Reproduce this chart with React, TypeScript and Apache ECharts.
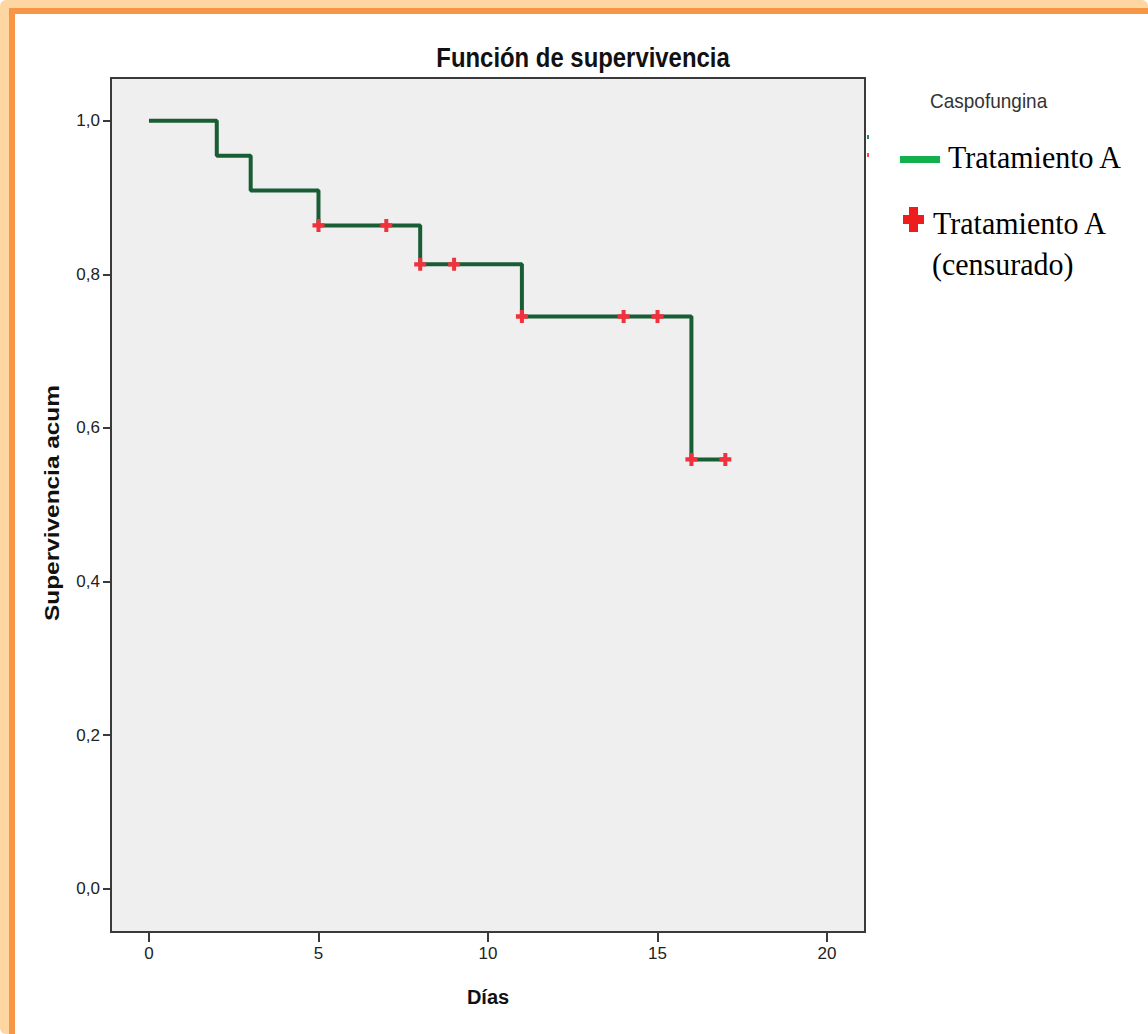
import React, { useEffect, useRef } from "react";
import * as echarts from "echarts";

// Kaplan-Meier step curve (days, cumulative survival)
const stepDays = [0, 2, 3, 5, 8, 11, 16, 17];
const stepSurvival = [1.0, 0.9545, 0.9091, 0.8636, 0.813, 0.745, 0.559, 0.559];

// Censored observations
const censoredDays = [5, 7, 8, 9, 11, 14, 15, 16, 17];
const censoredSurvival = [0.8636, 0.8636, 0.813, 0.813, 0.745, 0.745, 0.745, 0.559, 0.559];

const xTicks = [0, 5, 10, 15, 20];
const yTicks = [0, 0.2, 0.4, 0.6, 0.8, 1.0];

const titleText = "Función de supervivencia";
const xTitle = "Días";
const yTitle = "Supervivencia acum";
const legendTitle = "Caspofungina";
const legendLine = "Tratamiento A";
const legendCensor1 = "Tratamiento A";
const legendCensor2 = "(censurado)";

const PLUS = "path://M4,0 L8,0 L8,4 L12,4 L12,8 L8,8 L8,12 L4,12 L4,8 L0,8 L0,4 L4,4 Z";

export default function App() {
  const ref = useRef<HTMLDivElement>(null);
  useEffect(() => {
    if (!ref.current) return;
    const chart = echarts.init(ref.current, null, { renderer: "svg" });
    const lineData = stepDays.map((d, i) => [d, stepSurvival[i]]);
    const censData = censoredDays.map((d, i) => [d, censoredSurvival[i]]);
    const axisFont = { fontFamily: "Liberation Sans", fontSize: 17, color: "#222" };
    chart.setOption({
      animation: false,
      backgroundColor: "#ffffff",
      grid: {
        left: 111,
        top: 78,
        width: 754,
        height: 854,
        show: true,
        backgroundColor: "#EFEFEF",
        borderColor: "#3a3a3a",
        borderWidth: 2,
      },
      xAxis: {
        type: "value",
        min: -1.12,
        max: 21.12,
        splitLine: { show: false },
        axisLine: { show: true, onZero: false, lineStyle: { color: "#3a3a3a", width: 2 } },
        axisTick: { show: true, length: 10, customValues: xTicks, lineStyle: { color: "#3a3a3a", width: 2 } },
        axisLabel: { ...axisFont, margin: 13, customValues: xTicks, formatter: (v: number) => String(v) },
      },
      yAxis: {
        type: "value",
        min: -0.0564,
        max: 1.0556,
        splitLine: { show: false },
        axisLine: { show: true, onZero: false, lineStyle: { color: "#3a3a3a", width: 2 } },
        axisTick: { show: true, length: 8, customValues: yTicks, lineStyle: { color: "#3a3a3a", width: 2 } },
        axisLabel: {
          ...axisFont,
          margin: 11,
          customValues: yTicks,
          formatter: (v: number) => v.toFixed(1).replace(".", ","),
        },
      },
      series: [
        {
          type: "line",
          name: legendLine,
          step: "end",
          data: lineData,
          showSymbol: false,
          lineStyle: { color: "#195D34", width: 4 },
          z: 2,
        },
        {
          type: "scatter",
          name: legendCensor2,
          data: censData,
          symbol: PLUS,
          symbolSize: [12, 13],
          itemStyle: { color: "#F0323C", opacity: 1 },
          z: 3,
        },
      ],
      graphic: [
        // orange frame
        { type: "rect", z: -10, silent: true, shape: { x: 0, y: 0, width: 1148, height: 1034, r: 6 }, style: { fill: "#FED6A2" } },
        { type: "rect", z: -9, silent: true, shape: { x: 9, y: 8, width: 1139, height: 1026 }, style: { fill: "#F79646" } },
        { type: "rect", z: -8, silent: true, shape: { x: 15, y: 14, width: 1133, height: 1020 }, style: { fill: "#ffffff" } },
        // title
        {
          type: "text",
          x: 583,
          y: 57,
          scaleX: 0.885,
          style: {
            text: titleText,
            font: "bold 27px 'Liberation Sans'",
            fill: "#111",
            textAlign: "center",
            textVerticalAlign: "middle",
          },
        },
        // axis titles
        {
          type: "text",
          x: 488,
          y: 997,
          style: {
            text: xTitle,
            font: "bold 20px 'Liberation Sans'",
            fill: "#111",
            textAlign: "center",
            textVerticalAlign: "middle",
          },
        },
        {
          type: "text",
          x: 52,
          y: 503,
          rotation: Math.PI / 2,
          scaleX: 1.22,
          style: {
            text: yTitle,
            font: "bold 20px 'Liberation Sans'",
            fill: "#111",
            textAlign: "center",
            textVerticalAlign: "middle",
          },
        },
        // legend
        {
          type: "text",
          x: 930,
          y: 101,
          scaleY: 1.1,
          style: {
            text: legendTitle,
            font: "19px 'Liberation Sans'",
            fill: "#333",
            textVerticalAlign: "middle",
          },
        },
        { type: "rect", shape: { x: 900, y: 156, width: 40, height: 7 }, style: { fill: "#14B04E" } },
        {
          type: "text",
          x: 948,
          y: 157,
          scaleY: 1.08,
          style: { text: legendLine, font: "30px 'Liberation Serif'", fill: "#000", textVerticalAlign: "middle" },
        },
        {
          type: "polygon",
          shape: {
            points: [
              [909, 207], [918, 207], [918, 215], [924, 215], [924, 224], [918, 224],
              [918, 232], [909, 232], [909, 224], [903, 224], [903, 215], [909, 215],
            ],
          },
          style: { fill: "#EE1C1C" },
        },
        {
          type: "text",
          x: 933,
          y: 223,
          scaleY: 1.08,
          style: { text: legendCensor1, font: "30px 'Liberation Serif'", fill: "#000", textVerticalAlign: "middle" },
        },
        {
          type: "text",
          x: 932,
          y: 264,
          scaleY: 1.08,
          style: { text: legendCensor2, font: "30px 'Liberation Serif'", fill: "#000", textVerticalAlign: "middle" },
        },
        // tiny marks beside plot
        { type: "rect", shape: { x: 867, y: 135, width: 2, height: 4 }, style: { fill: "#2E8B57" } },
        { type: "rect", shape: { x: 867, y: 153, width: 2, height: 4 }, style: { fill: "#F05050" } },
      ],
    });
    return () => chart.dispose();
  }, []);
  return (
    <div
      ref={ref}
      style={{ position: "absolute", left: 0, top: 0, width: 1148, height: 1034 }}
    />
  );
}
